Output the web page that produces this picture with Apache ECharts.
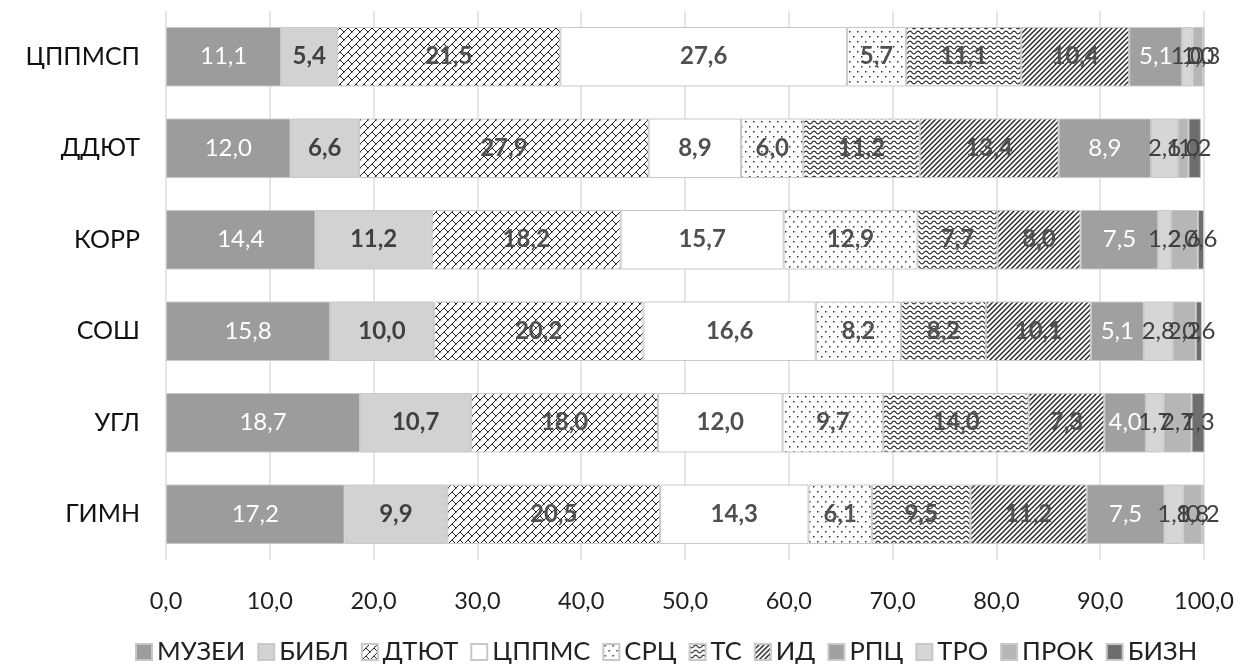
<!DOCTYPE html>
<html>
<head>
<meta charset="utf-8">
<script src="https://cdn.jsdelivr.net/npm/echarts@6/dist/echarts.min.js"></script>
<style>
  html, body { margin: 0; padding: 0; background: #fff; }
  #chart { width: 1252px; height: 672px; }
</style>
</head>
<body>
<div id="chart"></div>
<script>
// Organisations, listed top to bottom
const categories = ['ЦППМСП', 'ДДЮТ', 'КОРР', 'СОШ', 'УГЛ', 'ГИМН'];

// Shares (%) per partner type, same order as categories
const muzei  = [11.1, 12.0, 14.4, 15.8, 18.7, 17.2];
const bibl   = [5.4, 6.6, 11.2, 10.0, 10.7, 9.9];
const dtyut  = [21.5, 27.9, 18.2, 20.2, 18.0, 20.5];
const cppms  = [27.6, 8.9, 15.7, 16.6, 12.0, 14.3];
const src    = [5.7, 6.0, 12.9, 8.2, 9.7, 6.1];
const ts     = [11.1, 11.2, 7.7, 8.2, 14.0, 9.5];
const id     = [10.4, 13.4, 8.0, 10.1, 7.3, 11.2];
const rpc    = [5.1, 8.9, 7.5, 5.1, 4.0, 7.5];
const tro    = [1.0, 2.6, 1.2, 2.8, 1.7, 1.8];
const prok   = [1.0, 1.0, 2.6, 2.2, 2.7, 1.8];
const bizn   = [0.3, 1.2, 0.6, 0.6, 1.3, 0.2];

const xTicks = { min: 0, max: 100, interval: 10 };

const FONT = 'Lato, "Noto Sans", sans-serif';

// --- fill patterns drawn on small tiles ---
function tile(w, h, draw) {
  const c = document.createElement('canvas');
  c.width = w; c.height = h;
  const g = c.getContext('2d');
  g.fillStyle = '#ffffff';
  g.fillRect(0, 0, w, h);
  draw(g, w, h);
  return { image: c, repeat: 'repeat' };
}

// diagonal brick: continuous "/" lines with short "\" joints
const brick = tile(8, 8, (g, w, h) => {
  g.strokeStyle = '#1e1e1e'; g.lineWidth = 1;
  g.beginPath();
  g.moveTo(-1, h + 1); g.lineTo(w + 1, -1);
  g.moveTo(w / 2, h / 2); g.lineTo(w + 1, h + 1);
  g.moveTo(-1, -1); g.lineTo(0.5, 0.5);
  g.stroke();
});

// sparse dots
const dots = tile(8, 10, (g) => {
  g.fillStyle = '#333';
  g.fillRect(1, 1, 1.5, 1.5);
  g.fillRect(5, 6, 1.5, 1.5);
});

// waves
const waves = tile(8, 5, (g, w, h) => {
  g.strokeStyle = '#222'; g.lineWidth = 1.1;
  g.beginPath();
  for (let x = -1; x <= w + 1; x += 0.5) {
    const y = 2.5 + 1.4 * Math.sin(2 * Math.PI * x / w);
    if (x === -1) g.moveTo(x, y); else g.lineTo(x, y);
  }
  g.stroke();
});

// upward diagonal stripes
const stripes = tile(5, 5, (g, w, h) => {
  g.strokeStyle = '#222'; g.lineWidth = 1.4;
  g.beginPath();
  g.moveTo(-1, h + 1); g.lineTo(w + 1, -1);
  g.moveTo(-2, 2); g.lineTo(2, -2);
  g.moveTo(w - 2, h + 2); g.lineTo(w + 2, h - 2);
  g.stroke();
});

const fmt = (p) => p.value.toFixed(1).replace('.', ',');

function series(name, data, fill, labelColor, bold) {
  return {
    name, type: 'bar', stack: 'total', data,
    barCategoryGap: '35%',
    itemStyle: { color: fill, borderColor: '#c8c8c8', borderWidth: 1 },
    label: {
      show: true, position: 'inside', formatter: fmt,
      color: labelColor, fontFamily: FONT, fontSize: 24,
      fontWeight: bold ? 'bold' : 'normal'
    },
    emphasis: { disabled: true }
  };
}

const chart = echarts.init(document.getElementById('chart'), null, { renderer: 'canvas' });
chart.setOption({
  animation: false,
  backgroundColor: '#ffffff',
  textStyle: { fontFamily: FONT },
  grid: { left: 166, right: 48, top: 11, bottom: 112 },
  xAxis: {
    type: 'value', min: xTicks.min, max: xTicks.max, interval: xTicks.interval,
    axisLine: { show: false }, axisTick: { show: false },
    splitLine: { lineStyle: { color: '#dcdcdc', width: 1.5 } },
    axisLabel: {
      margin: 29, color: '#222', fontSize: 23.5, fontFamily: FONT,
      formatter: (v) => v.toFixed(1).replace('.', ',')
    }
  },
  yAxis: {
    type: 'category', data: categories, inverse: true,
    axisLine: { show: false }, axisTick: { show: false },
    axisLabel: { margin: 26, color: '#111', fontSize: 25, fontFamily: FONT }
  },
  legend: {
    bottom: 2, left: 130, itemWidth: 16, itemHeight: 16, itemGap: 12,
    textStyle: { fontSize: 25.5, color: '#222', fontFamily: FONT },
    icon: 'rect'
  },
  series: [
    series('МУЗЕИ', muzei, '#9c9c9c', '#ffffff', false),
    series('БИБЛ', bibl, '#d2d2d2', '#404040', true),
    series('ДТЮТ', dtyut, brick, '#505050', true),
    series('ЦППМС', cppms, '#ffffff', '#505050', true),
    series('СРЦ', src, dots, '#505050', true),
    series('ТС', ts, waves, '#505050', true),
    series('ИД', id, stripes, '#505050', true),
    series('РПЦ', rpc, '#a0a0a0', '#ffffff', false),
    series('ТРО', tro, '#d6d6d6', '#404040', false),
    series('ПРОК', prok, '#b6b6b6', '#404040', false),
    series('БИЗН', bizn, '#6e6e6e', '#404040', false)
  ]
});
</script>
</body>
</html>
